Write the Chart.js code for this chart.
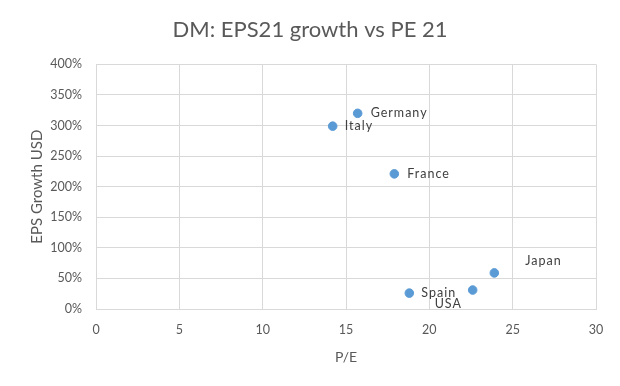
<!DOCTYPE html>
<html>
<head>
<meta charset="utf-8">
<script src="https://cdn.jsdelivr.net/npm/chart.js@4/dist/chart.umd.min.js"></script>
<style>
    html, body { margin: 0; padding: 0; background: #fff; }
    #wrap { width: 620px; height: 386px; }
</style>
</head>
<body>
<div id="wrap"><canvas id="chart" width="620" height="386"></canvas></div>
<script>
// values
const countries = ["Germany", "Italy", "France", "Japan", "USA", "Spain"];
const peValues = [15.7, 14.2, 17.9, 23.9, 22.6, 18.8];
const epsGrowth = [320, 299, 221, 59, 31, 26];
const xTicks = [0, 5, 10, 15, 20, 25, 30];
const yTicks = [0, 50, 100, 150, 200, 250, 300, 350, 400];

// where each label sits relative to its point (px)
const labelOffsets = {
    Germany: [13, 0], Italy: [12, 0], France: [13, 0],
    Japan: [31, -12], USA: [-38, 14], Spain: [12, 0]
};

const points = countries.map((c, i) => ({ x: peValues[i], y: epsGrowth[i], name: c }));

const pointLabels = {
    id: "pointLabels",
    afterDatasetsDraw(chart) {
        const ctx = chart.ctx;
        const meta = chart.getDatasetMeta(0);
        ctx.save();
        ctx.font = "12.5px Lato, 'Open Sans', sans-serif";
        ctx.fillStyle = "#404040";
        ctx.textBaseline = "middle";
        ctx.textAlign = "left";
        if ("letterSpacing" in ctx) ctx.letterSpacing = "1px";
        meta.data.forEach((el, i) => {
            const off = labelOffsets[countries[i]];
            ctx.fillText(countries[i], el.x + off[0], el.y + off[1]);
        });
        ctx.restore();
    }
};

const gridColor = "#d9d9d9";
const textColor = "#595959";
const fontFamily = "Lato, 'Open Sans', sans-serif";

new Chart(document.getElementById("chart").getContext("2d"), {
    type: "scatter",
    data: {
        datasets: [{
            data: points,
            backgroundColor: "#5b9bd5",
            borderColor: "#5b9bd5",
            pointRadius: 4.3,
            pointHoverRadius: 4.3
        }]
    },
    options: {
        responsive: false,
        animation: false,
        layout: { padding: { left: 24, right: 24, top: 0, bottom: 16 } },
        plugins: {
            legend: { display: false },
            tooltip: { enabled: false },
            title: {
                display: true,
                text: "DM: EPS21 growth vs PE 21",
                color: textColor,
                font: { family: fontFamily, size: 22, weight: "normal" },
                padding: { top: 17, bottom: 21 }
            }
        },
        scales: {
            x: {
                type: "linear",
                min: 0, max: 30,
                afterBuildTicks: s => { s.ticks = xTicks.map(v => ({ value: v })); },
                afterFit: s => { s.height = 61; },
                grid: { color: gridColor, drawTicks: false },
                border: { color: gridColor },
                ticks: { color: textColor, padding: 13, font: { family: fontFamily, size: 12.5 } },
                title: {
                    display: true, text: "P/E", color: textColor,
                    font: { family: fontFamily, size: 14 }, padding: { top: 8 }
                }
            },
            y: {
                type: "linear",
                min: 0, max: 400,
                afterBuildTicks: s => { s.ticks = yTicks.map(v => ({ value: v })); },
                afterFit: s => { s.width = 72; },
                grid: { color: gridColor, drawTicks: false },
                border: { color: gridColor },
                ticks: {
                    color: textColor, padding: 14,
                    font: { family: fontFamily, size: 12.5 },
                    callback: v => v + "%"
                },
                title: {
                    display: true, text: "EPS Growth USD", color: textColor,
                    font: { family: fontFamily, size: 15 }
                }
            }
        }
    },
    plugins: [pointLabels]
});
</script>
</body>
</html>
